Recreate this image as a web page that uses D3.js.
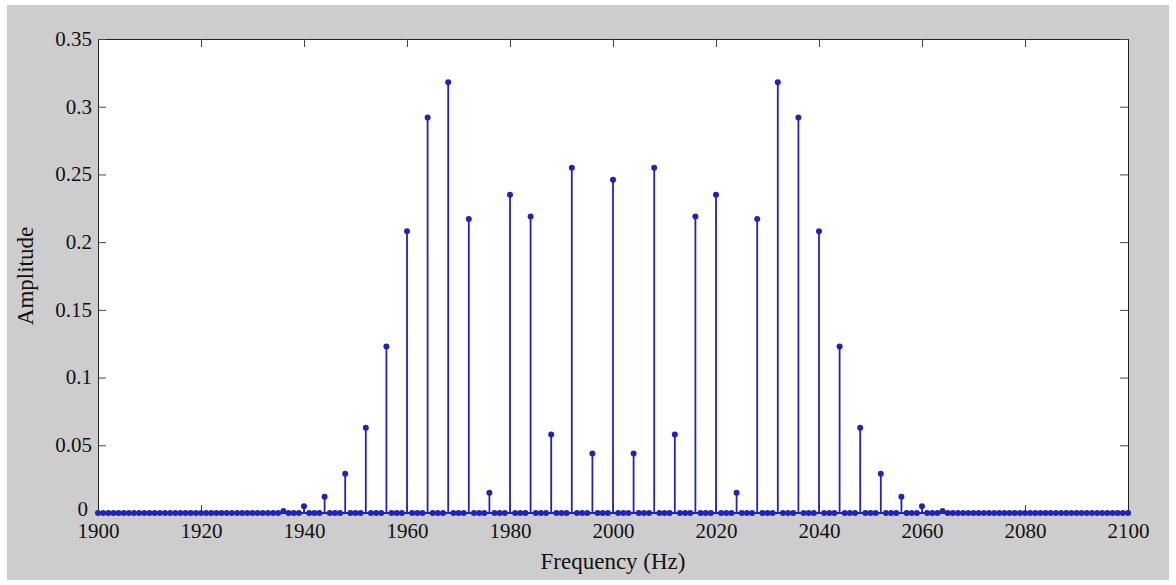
<!DOCTYPE html>
<html><head><meta charset="utf-8">
<script src="https://cdn.jsdelivr.net/npm/d3@7"></script>
<style>body{margin:0;background:#fff}svg{display:block}</style>
</head><body>
<svg id="c" width="1176" height="585"></svg>
<script>
// side-band offsets k (Hz = 2000 ± 4k) and amplitudes
const sidebandK = [0,1,2,3,4,5,6,7,8,9,10,11,12,13,14,15,16];
const sidebandAmp = [0.246,0.044,0.255,0.058,0.219,0.235,0.015,0.217,0.318,0.292,0.208,0.123,0.063,0.029,0.012,0.005,0.0015];
const xTicks = [1900,1920,1940,1960,1980,2000,2020,2040,2060,2080,2100];
const yTicks = [0,0.05,0.1,0.15,0.2,0.25,0.3,0.35];

const amp = new Map();
sidebandK.forEach((k,i)=>{amp.set(2000+4*k,sidebandAmp[i]);amp.set(2000-4*k,sidebandAmp[i]);});
const freqs = d3.range(1900,2101,1);
const data = freqs.map(f=>({f, a: amp.get(f)||0}));

const svg = d3.select("#c");
svg.append("rect").attr("x",7).attr("y",5).attr("width",1162).attr("height",575).attr("fill","#cdcdcd");
const L=98,T=39,R=1128,B=513;
const x=d3.scaleLinear().domain([1900,2100]).range([L,R]);
const y=d3.scaleLinear().domain([0,0.35]).range([B,T]);
svg.append("rect").attr("x",L).attr("y",T).attr("width",R-L).attr("height",B-T).attr("fill","#fff");

const font="Liberation Serif, Times New Roman, serif";
const gx=svg.append("g").attr("transform",`translate(0,${B})`).call(d3.axisBottom(x).tickValues(xTicks).tickSize(-8).tickPadding(10).tickFormat(d3.format("d")));
const gxt=svg.append("g").attr("transform",`translate(0,${T})`).call(d3.axisTop(x).tickValues(xTicks).tickSize(-8).tickFormat(""));
const gy=svg.append("g").attr("transform",`translate(${L},0)`).call(d3.axisLeft(y).tickValues(yTicks).tickSize(-8).tickPadding(6).tickFormat(d=>d===0?"0":String(+d.toFixed(2))));
const gyr=svg.append("g").attr("transform",`translate(${R},0)`).call(d3.axisRight(y).tickValues(yTicks).tickSize(-8).tickFormat(""));
[gx,gxt,gy,gyr].forEach(g=>{g.selectAll("path.domain").attr("stroke","#222");g.selectAll("line").attr("stroke","#444");g.selectAll("text").attr("font-family",font).attr("font-size",21).attr("fill","#111");});
gy.selectAll(".tick text").attr("dy","0.3em");
gy.selectAll(".tick text").filter(d=>d===0).attr("dy","0.1em").attr("x",-10);

const g=svg.append("g");
g.selectAll("line.s").data(data.filter(d=>d.a>0)).join("line")
 .attr("x1",d=>x(d.f)).attr("x2",d=>x(d.f)).attr("y1",y(0)).attr("y2",d=>y(d.a))
 .attr("stroke","#2222b8").attr("stroke-width",1.8);
g.append("line").attr("x1",L).attr("x2",R).attr("y1",y(0)).attr("y2",y(0)).attr("stroke","#2222b8").attr("stroke-width",1.8);
g.selectAll("circle").data(data).join("circle")
 .attr("cx",d=>x(d.f)).attr("cy",d=>y(d.a)).attr("r",3).attr("fill","#2222b8");

svg.append("text").attr("x",(L+R)/2).attr("y",569).attr("text-anchor","middle").attr("font-family",font).attr("font-size",23).attr("fill","#111").text("Frequency (Hz)");
svg.append("text").attr("transform",`translate(33,${(T+B)/2}) rotate(-90)`).attr("text-anchor","middle").attr("font-family",font).attr("font-size",23).attr("fill","#111").text("Amplitude");
</script>
</body></html>
